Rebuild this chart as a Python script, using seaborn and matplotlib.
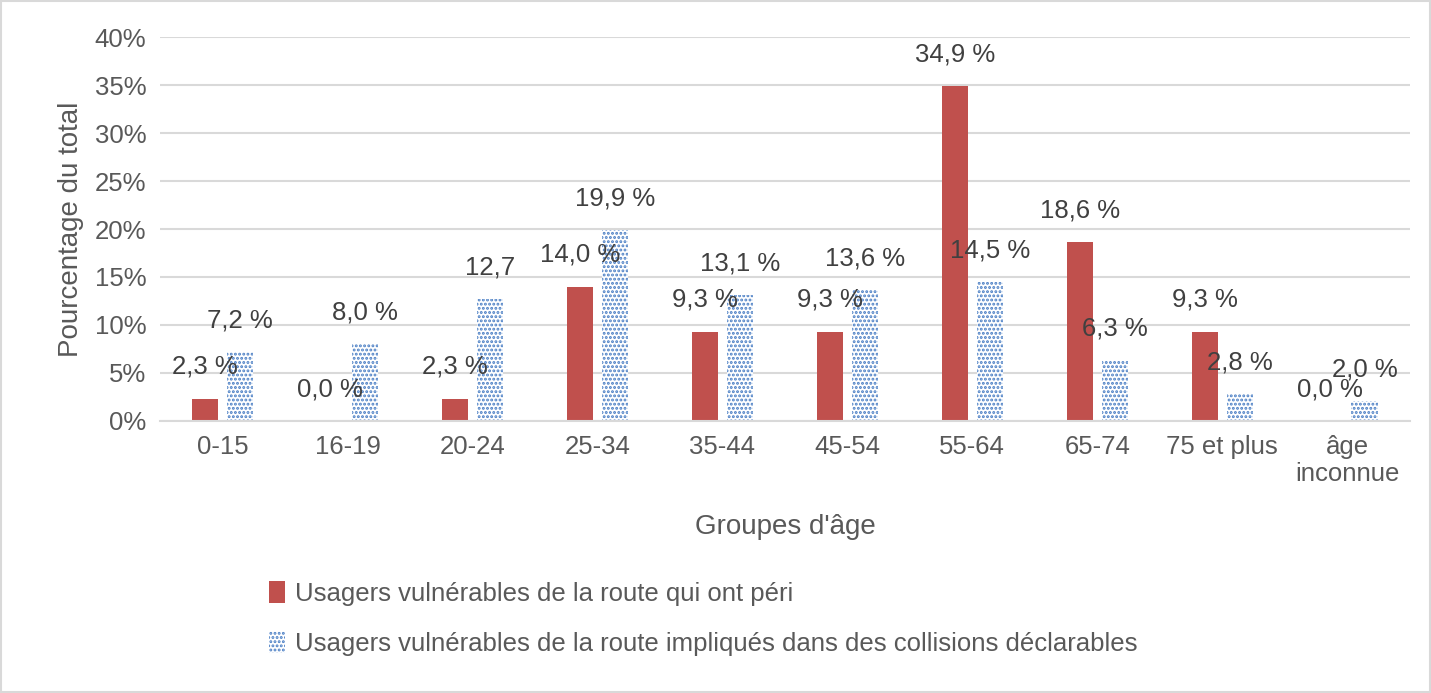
import numpy as np
import pandas as pd
import matplotlib
matplotlib.use("Agg")
import matplotlib.pyplot as plt
import seaborn as sns
from matplotlib.patches import Patch

categories = ["0-15", "16-19", "20-24", "25-34", "35-44", "45-54", "55-64", "65-74", "75 et plus", "âge\ninconnue"]
deceased = [2.3, 0.0, 2.3, 14.0, 9.3, 9.3, 34.9, 18.6, 9.3, 0.0]
collisions = [7.2, 8.0, 12.7, 19.9, 13.1, 13.6, 14.5, 6.3, 2.8, 2.0]
labels_dec = ["2,3 %", "0,0 %", "2,3 %", "14,0 %", "9,3 %", "9,3 %", "34,9 %", "18,6 %", "9,3 %", "0,0 %"]
labels_col = ["7,2 %", "8,0 %", "12,7", "19,9 %", "13,1 %", "13,6 %", "14,5 %", "6,3 %", "2,8 %", "2,0 %"]

s1 = "Usagers vulnérables de la route qui ont péri"
s2 = "Usagers vulnérables de la route impliqués dans des collisions déclarables"
df = pd.DataFrame({"cat": categories * 2, "val": deceased + collisions,
                   "serie": [s1] * 10 + [s2] * 10})

plt.rcParams["font.family"] = "Liberation Sans"
plt.rcParams["hatch.linewidth"] = 1.4
fig = plt.figure(figsize=(14.31, 6.93), dpi=100)
ax = fig.add_axes([0.112, 0.393, 0.873, 0.553])

sns.barplot(data=df, x="cat", y="val", hue="serie", ax=ax, width=0.42,
            palette=["#c0504d", "white"], legend=False, saturation=1)
red_bars = ax.containers[0]
blue_bars = ax.containers[1]
for b in red_bars:
    b.set_linewidth(0)
    b.set_x(b.get_x() - 0.035)
for b in blue_bars:
    b.set_hatch("....")
    b.set_edgecolor("#4a7ec4")
    b.set_linewidth(0)
    b.set_x(b.get_x() + 0.035)

for bars, vals, labs in [(red_bars, deceased, labels_dec), (blue_bars, collisions, labels_col)]:
    for b, v, t in zip(bars, vals, labs):
        ax.text(b.get_x() + b.get_width() / 2, v + 3.3, t, ha="center", va="center",
                fontsize=18.5, color="#404040")

ax.set_ylim(0, 40)
ax.set_yticks(range(0, 41, 5))
ax.set_yticklabels([f"{v}%" for v in range(0, 41, 5)])
ax.set_xlim(-0.5, 9.5)
ax.yaxis.grid(True, color="#d9d9d9", linewidth=1.5)
ax.set_axisbelow(True)
for s in ax.spines.values():
    s.set_visible(False)
ax.spines["bottom"].set_visible(True)
ax.spines["bottom"].set_color("#d9d9d9")
ax.spines["bottom"].set_linewidth(1.5)
ax.tick_params(length=0, labelsize=18.5, colors="#595959", pad=10)
ax.set_xlabel("Groupes d'âge", fontsize=20, color="#595959", labelpad=20)
ax.set_ylabel("Pourcentage du total", fontsize=20, color="#595959", labelpad=8)

handles = [Patch(facecolor="#c0504d", label=s1),
           Patch(facecolor="white", edgecolor="#4a7ec4", hatch="....", linewidth=0, label=s2)]
fig.legend(handles=handles, loc="lower left", bbox_to_anchor=(0.172, 0.02), ncol=1, frameon=False,
           fontsize=18.5, labelcolor="#595959", handlelength=0.6, handleheight=0.9,
           handletextpad=0.4, labelspacing=1.0)

fig.patches.append(plt.Rectangle((0.001, 0.001), 0.998, 0.998, transform=fig.transFigure,
                                 fill=False, edgecolor="#d9d9d9", linewidth=1.5))
fig.savefig("out.png", dpi=100)
